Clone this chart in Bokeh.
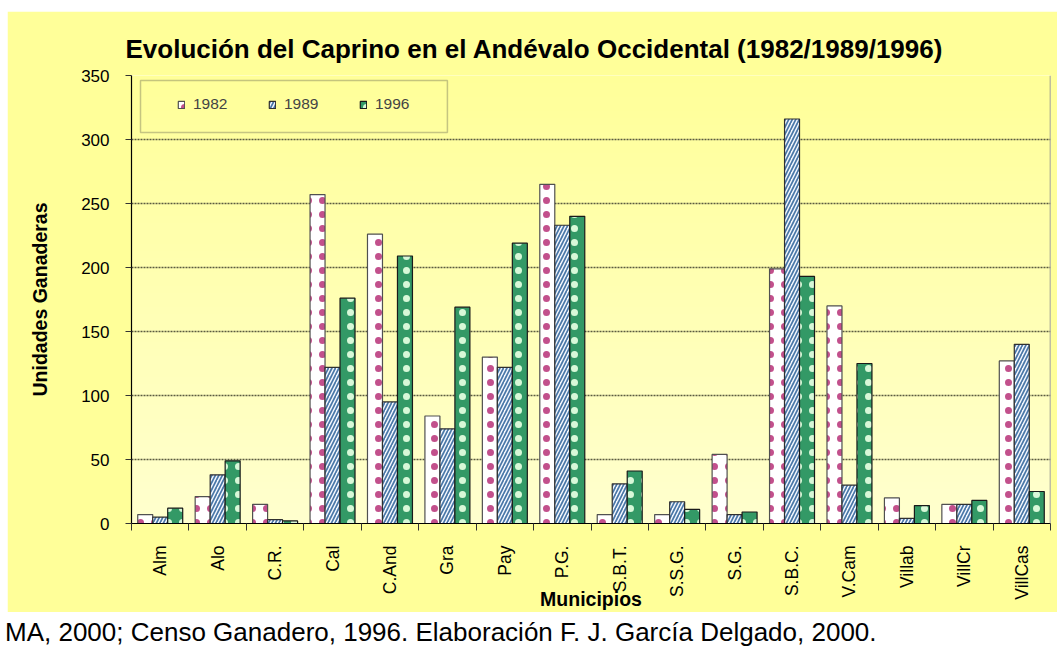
from math import pi
from bokeh.plotting import figure
from bokeh.models import (ColumnDataSource, FixedTicker, Legend, LegendItem,
                          BoxAnnotation, Span, Div, Spacer)
from bokeh.layouts import column, row
from bokeh.transform import dodge
from bokeh.embed import file_html
from bokeh.resources import INLINE
import numpy as np

# ---------------- data ----------------
municipios = ["Alm", "Alo", "C.R.", "Cal", "C.And", "Gra", "Pay", "P.G.", "S.B.T.",
              "S.S.G.", "S.G.", "S.B.C.", "V.Cam", "Villab", "VillCr", "VillCas"]
v1982 = [7, 21, 15, 257, 226, 84, 130, 265, 7, 7, 54, 199, 170, 20, 15, 127]
v1989 = [5, 38, 3, 122, 95, 74, 122, 233, 31, 17, 7, 316, 30, 4, 15, 140]
v1996 = [12, 49, 2, 176, 209, 169, 219, 240, 41, 11, 9, 193, 125, 14, 18, 25]
years = ["1982", "1989", "1996"]
y_ticks = [0, 50, 100, 150, 200, 250, 300, 350]
title_text = "Evolución del Caprino en el Andévalo Occidental (1982/1989/1996)"
x_title = "Municipios"
y_title = "Unidades Ganaderas"
source_text = "MA, 2000; Censo Ganadero, 1996. Elaboración F. J. García Delgado, 2000."

SANS = "Liberation Sans"

xs = list(range(1, len(municipios) + 1))
src = ColumnDataSource(dict(x=xs, m=municipios, a=v1982, b=v1989, c=v1996))

p = figure(width=1050, height=601, output_backend="svg", toolbar_location=None,
           x_range=(0.5, len(municipios) + 0.5), y_range=(0, 350),
           min_border_left=124, min_border_right=7, min_border_top=64, min_border_bottom=77)
p.border_fill_color = "#FFFF99"
p.background_fill_color = "#FFFFCC"
p.outline_line_color = None

# title
p.title.text = title_text
p.title.text_font = SANS
p.title.text_font_style = "bold"
p.title.text_font_size = "26px"
p.title.text_color = "black"
p.title.align = "left"
p.title.offset = -6
p.title.standoff = 24

# vertical gradient of the plot area (pale at bottom, yellow at top)
n = 64
c0 = np.array([255, 255, 206]); c1 = np.array([255, 255, 153])
pal = ["#%02x%02x%02x" % tuple(int(round(v)) for v in c0 + (c1 - c0) * i / (n - 1)) for i in range(n)]
p.image(image=[np.arange(n).reshape(n, 1).astype(float)], x=0.5, y=0,
        dw=len(municipios), dh=350, palette=pal, level="image")

# grid
p.xgrid.visible = False
p.ygrid.grid_line_color = "#5a5a40"
p.ygrid.grid_line_dash = "2 1"
p.ygrid.grid_line_width = 1.5

bw = 0.261
r1 = p.vbar(x=dodge("x", -bw, range=p.x_range), top="a", width=bw, source=src,
            fill_color="white", line_color="#505050", line_width=1.2,
            hatch_pattern="dot", hatch_color="#C2508C", hatch_scale=14, hatch_weight=0.8)
r2 = p.vbar(x=dodge("x", 0, range=p.x_range), top="b", width=bw, source=src,
            fill_color="#F6F9FF", line_color="#303030", line_width=1.2,
            hatch_pattern="right_diagonal_line", hatch_color="#4A78A8", hatch_scale=7, hatch_weight=1.7)
r3 = p.vbar(x=dodge("x", bw, range=p.x_range), top="c", width=bw, source=src,
            fill_color="#339966", line_color="#1a1a1a", line_width=1.2,
            hatch_pattern="dot", hatch_color="#D8F8D8", hatch_scale=14, hatch_weight=0.8)

# axes
yax = p.yaxis[0]
yax.ticker = FixedTicker(ticks=y_ticks)
yax.axis_line_color = "black"
yax.axis_line_width = 1.2
yax.major_tick_out = 6
yax.major_tick_in = 0
yax.major_tick_line_color = "#333333"
yax.minor_tick_line_color = None
yax.major_label_standoff = 16
yax.major_label_text_font = SANS
yax.major_label_text_font_size = "17px"
yax.major_label_text_color = "black"
yax.axis_label = y_title
yax.axis_label_text_font = SANS
yax.axis_label_text_font_style = "bold"
yax.axis_label_text_font_size = "19.5px"
yax.axis_label_text_color = "black"
yax.axis_label_standoff = 27

xax = p.xaxis[0]
xax.ticker = FixedTicker(ticks=xs, minor_ticks=[x + 0.5 for x in [0] + xs])
xax.major_label_overrides = {x: m for x, m in zip(xs, municipios)}
xax.major_tick_line_color = None
xax.major_tick_out = 0
xax.major_tick_in = 0
xax.minor_tick_out = 7
xax.minor_tick_in = 0
xax.minor_tick_line_color = "#333333"
xax.axis_line_color = "black"
xax.axis_line_width = 1.2
xax.major_label_orientation = pi / 2
xax.major_label_standoff = 15
xax.major_label_text_font = SANS
xax.major_label_text_font_size = "17.5px"
xax.major_label_text_color = "black"
xax.axis_label = x_title
xax.axis_label_text_font = SANS
xax.axis_label_text_font_style = "bold"
xax.axis_label_text_font_size = "19.5px"
xax.axis_label_text_color = "black"
xax.axis_label_standoff = -15

p.add_layout(Span(location=len(municipios) + 0.5, dimension="height",
                  line_color="#808080", line_width=1.5))

# legend
p.add_layout(BoxAnnotation(left=0.657, right=6.0, top=346.1, bottom=305.5,
                           fill_color=None, line_color="#404040", line_width=1.5))
legend = Legend(items=[LegendItem(label=years[0], renderers=[r1]),
                       LegendItem(label=years[1], renderers=[r2]),
                       LegendItem(label=years[2], renderers=[r3])],
                orientation="horizontal", location=(46, 409), glyph_width=8, glyph_height=9,
                label_standoff=8, label_width=50, label_height=20, spacing=25, padding=5,
                margin=0, border_line_color=None, background_fill_alpha=0,
                label_text_font=SANS, label_text_font_size="15.5px")
p.add_layout(legend)

note = Div(text=source_text, width=1057, height=34,
           styles={"font-family": SANS, "font-size": "26px", "line-height": "1.15",
                   "white-space": "nowrap", "overflow": "hidden", "padding-top": "1px",
                   "color": "black"})

layout = column(Spacer(height=11, width=1057), row(Spacer(width=7, height=601), p), note)
open("out.html", "w").write(file_html(layout, INLINE))
